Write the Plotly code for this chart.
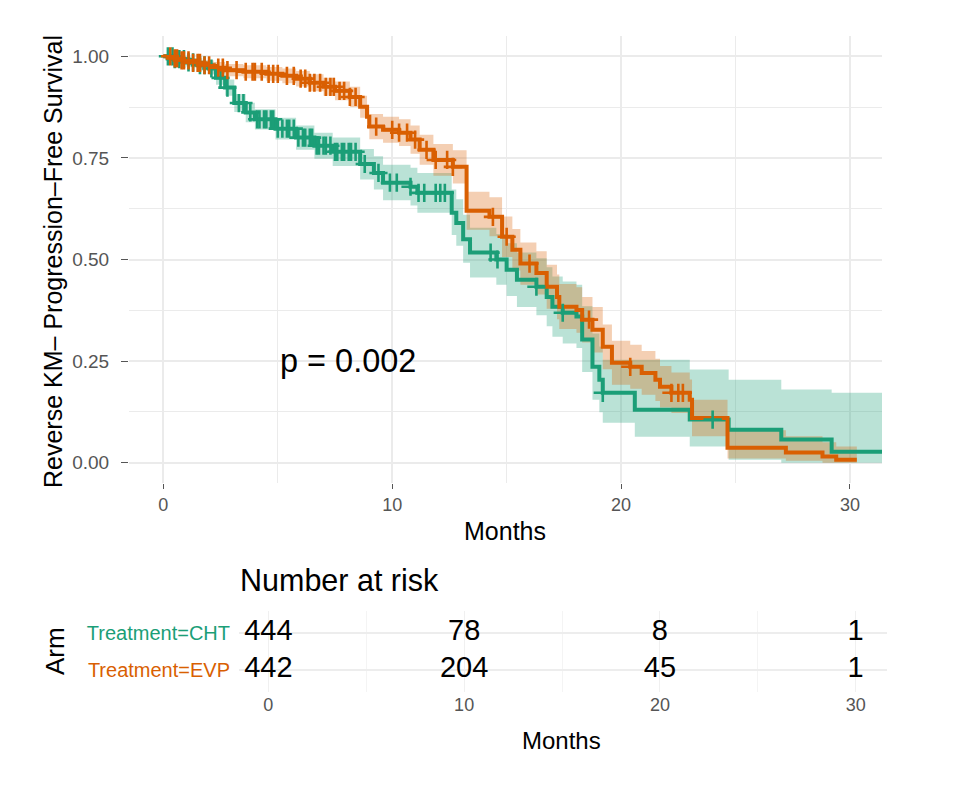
import numpy as np
import plotly.graph_objects as go

# ---------------- data ----------------
# CHT arm (Kaplan-Meier steps)
cht_t = [0, 0.5, 1.0, 1.5, 2.0, 2.3, 2.7, 3.1, 3.6, 4.0, 4.9, 5.8, 6.6, 7.4, 8.6, 9.2, 9.6,
         10.8, 11.1, 12.6, 12.8, 13.1, 13.4, 14.55, 15.0, 15.45, 16.3, 16.75, 17.0, 17.45,
         18.05, 18.3, 18.75, 19.05, 19.2, 20.6, 23.0, 24.7, 27.0, 29.2, 31.4]
cht_s = [1.0, 0.993, 0.985, 0.978, 0.97, 0.947, 0.923, 0.885, 0.862, 0.845, 0.822, 0.8, 0.78,
         0.765, 0.735, 0.713, 0.689, 0.679, 0.664, 0.615, 0.59, 0.55, 0.517, 0.5, 0.475, 0.45,
         0.433, 0.408, 0.384, 0.369, 0.36, 0.303, 0.236, 0.204, 0.172, 0.13, 0.106, 0.081,
         0.057, 0.027, 0.027]
cht_lo = [1.0, 0.985, 0.975, 0.965, 0.955, 0.93, 0.903, 0.863, 0.838, 0.82, 0.795, 0.77, 0.748,
          0.73, 0.697, 0.672, 0.646, 0.633, 0.615, 0.56, 0.534, 0.492, 0.456, 0.438, 0.41, 0.383,
          0.363, 0.336, 0.31, 0.293, 0.282, 0.223, 0.155, 0.124, 0.098, 0.064, 0.04, 0.007,
          0.0, 0.0, 0.0]
cht_hi = [1.0, 1.0, 0.996, 0.99, 0.985, 0.965, 0.943, 0.907, 0.886, 0.87, 0.849, 0.83, 0.812,
          0.8, 0.772, 0.754, 0.733, 0.726, 0.713, 0.672, 0.648, 0.61, 0.578, 0.563, 0.54,
          0.517, 0.503, 0.481, 0.458, 0.446, 0.438, 0.385, 0.318, 0.286, 0.253, 0.253, 0.229,
          0.204, 0.18, 0.172, 0.172]
cht_cens = [0.2, 0.4, 0.5, 0.7, 0.9, 1.1, 1.3, 1.6, 1.8, 2.1, 2.5, 2.8, 3.3, 3.5, 3.8, 4.1, 4.2,
            4.4, 4.5, 4.7, 4.8, 5.0, 5.2, 5.4, 5.5, 5.7, 5.9, 6.1, 6.2, 6.4, 6.5, 6.7, 6.8, 7.0,
            7.1, 7.3, 7.5, 7.6, 7.8, 7.9, 8.1, 8.2, 8.4, 8.8, 9.4, 9.9, 10.2, 10.8, 11.15, 11.4,
            11.9, 12.1, 12.3, 14.3, 14.6, 16.3, 17.45, 19.2, 24.0]

# EVP arm
evp_t = [0, 0.4, 0.8, 1.2, 1.7, 2.2, 2.7, 3.5, 4.5, 5.2, 5.8, 6.4, 7.0, 7.5, 8.15, 8.6, 8.9,
         9.0, 9.6, 10.3, 10.8, 11.2, 11.8, 12.65, 13.25, 14.25, 14.8, 15.25, 15.6, 16.3, 16.75,
         17.2, 17.3, 18.05, 18.3, 18.75, 19.2, 19.6, 20.4, 20.9, 21.5, 21.7, 22.2, 23.0, 23.1,
         24.65, 27.2, 28.8, 29.4, 30.3]
evp_s = [1.0, 0.995, 0.99, 0.984, 0.978, 0.972, 0.966, 0.962, 0.957, 0.952, 0.945, 0.935, 0.925,
         0.915, 0.9, 0.876, 0.851, 0.827, 0.819, 0.812, 0.795, 0.77, 0.745, 0.728, 0.62, 0.605,
         0.556, 0.524, 0.49, 0.467, 0.433, 0.408, 0.384, 0.376, 0.352, 0.327, 0.285, 0.246,
         0.236, 0.221, 0.204, 0.187, 0.172, 0.155, 0.11, 0.037, 0.025, 0.015, 0.007, 0.007]
evp_lo = [1.0, 0.988, 0.981, 0.973, 0.966, 0.958, 0.951, 0.946, 0.94, 0.934, 0.926, 0.914, 0.903,
          0.892, 0.875, 0.849, 0.822, 0.796, 0.787, 0.779, 0.76, 0.733, 0.706, 0.687, 0.573,
          0.557, 0.506, 0.473, 0.438, 0.414, 0.379, 0.353, 0.329, 0.32, 0.296, 0.271, 0.23,
          0.192, 0.182, 0.167, 0.152, 0.136, 0.122, 0.105, 0.065, 0.01, 0.005, 0.0, 0.0, 0.0]
evp_hi = [1.0, 1.0, 0.999, 0.995, 0.99, 0.986, 0.981, 0.978, 0.974, 0.97, 0.964, 0.956, 0.947,
          0.938, 0.925, 0.903, 0.88, 0.858, 0.851, 0.845, 0.83, 0.807, 0.784, 0.769, 0.667,
          0.653, 0.606, 0.575, 0.542, 0.52, 0.487, 0.463, 0.44, 0.432, 0.408, 0.383, 0.34, 0.3,
          0.29, 0.275, 0.256, 0.238, 0.222, 0.205, 0.155, 0.08, 0.065, 0.05, 0.04, 0.04]
evp_cens = [0.3, 0.5, 0.6, 0.8, 0.9, 1.1, 1.3, 1.5, 1.6, 1.8, 2.0, 2.4, 2.6, 2.8, 3.2, 3.6, 3.9,
            4.0, 4.3, 4.6, 4.8, 5.0, 5.4, 5.7, 6.0, 6.2, 6.4, 6.6, 6.85, 7.1, 7.3, 7.45, 7.7,
            7.9, 8.15, 8.4, 9.3, 10.0, 10.3, 10.65, 11.0, 11.5, 11.9, 12.4, 12.65, 14.4, 15.0,
            16.0, 18.6, 20.4, 22.2, 22.5, 22.7]

risk_times = [0, 10, 20, 30]
risk_cht = [444, 78, 8, 1]
risk_evp = [442, 204, 45, 1]

arm_labels = ["Treatment=CHT", "Treatment=EVP"]
p_text = "p = 0.002"

GREEN = "#1B9E77"
ORANGE = "#D95F02"
FONT = "Liberation Sans, Arial, Helvetica, sans-serif"


def step_at(times, surv, t):
    idx = np.searchsorted(np.asarray(times), np.asarray(t), side="right") - 1
    return np.asarray(surv)[idx]


fig = go.Figure()

# confidence bands
for t, lo, hi, col in [(cht_t, cht_lo, cht_hi, "rgba(27,158,119,0.30)"),
                       (evp_t, evp_lo, evp_hi, "rgba(217,95,2,0.30)")]:
    fig.add_trace(go.Scatter(x=t, y=lo, mode="lines", line=dict(width=0, shape="hv"),
                             hoverinfo="skip", showlegend=False, xaxis="x", yaxis="y"))
    fig.add_trace(go.Scatter(x=t, y=hi, mode="lines", line=dict(width=0, shape="hv"),
                             fill="tonexty", fillcolor=col, hoverinfo="skip",
                             showlegend=False, xaxis="x", yaxis="y"))

# survival curves
for t, s, col in [(cht_t, cht_s, GREEN), (evp_t, evp_s, ORANGE)]:
    fig.add_trace(go.Scatter(x=t, y=s, mode="lines", line=dict(color=col, width=4, shape="hv"),
                             showlegend=False, xaxis="x", yaxis="y"))

# censor marks
for t, s, c, col in [(cht_t, cht_s, cht_cens, GREEN), (evp_t, evp_s, evp_cens, ORANGE)]:
    fig.add_trace(go.Scatter(x=c, y=step_at(t, s, c), mode="markers",
                             marker=dict(symbol="cross-thin", size=13, color=col,
                                         line=dict(color=col, width=2.6)),
                             showlegend=False, xaxis="x", yaxis="y"))

# risk table numbers
fig.add_trace(go.Scatter(x=risk_times, y=[2] * len(risk_times), mode="text",
                         text=[str(v) for v in risk_cht],
                         textfont=dict(size=29, color="black", family=FONT),
                         showlegend=False, xaxis="x2", yaxis="y2"))
fig.add_trace(go.Scatter(x=risk_times, y=[1] * len(risk_times), mode="text",
                         text=[str(v) for v in risk_evp],
                         textfont=dict(size=29, color="black", family=FONT),
                         showlegend=False, xaxis="x2", yaxis="y2"))

GRID = "#ebebeb"
TICKC = "#555555"

fig.update_layout(
    width=972, height=788,
    margin=dict(l=0, r=0, t=0, b=0),
    paper_bgcolor="white", plot_bgcolor="white",
    font=dict(family=FONT, color="black"),
    xaxis=dict(domain=[129 / 972, 882 / 972], range=[-1.5, 31.4], anchor="y",
               tickvals=[0, 10, 20, 30], showgrid=True, gridcolor=GRID, gridwidth=1.6,
               minor=dict(tickvals=[5, 15, 25], showgrid=True, gridcolor=GRID, gridwidth=0.8),
               zeroline=False, showline=False, ticks="outside", ticklen=5, tickcolor=TICKC,
               tickwidth=1.2, tickfont=dict(size=18, color=TICKC, family=FONT)),
    yaxis=dict(domain=[1 - 483 / 788, 1 - 36 / 788], range=[-0.05, 1.05], anchor="x",
               tickvals=[0, 0.25, 0.5, 0.75, 1.0], ticktext=["0.00", "0.25", "0.50", "0.75", "1.00"],
               showgrid=True, gridcolor=GRID, gridwidth=1.6,
               minor=dict(tickvals=[0.125, 0.375, 0.625, 0.875], showgrid=True, gridcolor=GRID,
                          gridwidth=0.8),
               zeroline=False, showline=False, ticks="outside", ticklen=7, tickcolor=TICKC,
               tickwidth=1.4, ticklabelstandoff=8,
               tickfont=dict(size=19, color=TICKC, family=FONT)),
    xaxis2=dict(domain=[239 / 972, 887 / 972], range=[-1.5, 31.6], anchor="y2",
                tickvals=[0, 10, 20, 30], showgrid=True, gridcolor="#f0f0f0", gridwidth=1.2,
                minor=dict(tickvals=[5, 15, 25], showgrid=True, gridcolor="#f4f4f4", gridwidth=0.8),
                zeroline=False, showline=False, ticks="",
                tickfont=dict(size=18, color=TICKC, family=FONT)),
    yaxis2=dict(domain=[1 - 692 / 788, 1 - 611 / 788], range=[0.4, 2.6], anchor="x2",
                tickvals=[2, 1],
                ticktext=["<span style='color:%s'>%s</span>" % (GREEN, arm_labels[0]),
                          "<span style='color:%s'>%s</span>" % (ORANGE, arm_labels[1])],
                showgrid=True, gridcolor="#ededed", gridwidth=1.6, zeroline=False,
                showline=False, ticks="outside", ticklen=4, tickcolor="rgba(0,0,0,0)",
                tickfont=dict(size=20, family=FONT)),
    annotations=[
        dict(text="Reverse KM\u2013 Progression\u2013Free Survival", xref="paper", yref="paper",
             x=53 / 972, y=1 - 262 / 788, textangle=-90, showarrow=False,
             font=dict(size=25, color="black", family=FONT), xanchor="center", yanchor="middle"),
        dict(text="Months", xref="paper", yref="paper", x=505 / 972, y=1 - 531 / 788,
             showarrow=False, font=dict(size=25, color="black", family=FONT),
             xanchor="center", yanchor="middle"),
        dict(text=p_text, xref="x", yref="y", x=5, y=0.25, xanchor="left", yanchor="middle",
             showarrow=False, font=dict(size=32.5, color="black", family=FONT)),
        dict(text="Number at risk", xref="paper", yref="paper", x=238 / 972, y=1 - 580 / 788,
             xanchor="left", yanchor="middle", showarrow=False,
             font=dict(size=30.5, color="black", family=FONT)),
        dict(text="Arm", xref="paper", yref="paper", x=55 / 972, y=1 - 651 / 788,
             textangle=-90, showarrow=False, font=dict(size=26, color="black", family=FONT),
             xanchor="center", yanchor="middle"),
        dict(text="Months", xref="paper", yref="paper", x=561 / 972, y=1 - 740 / 788,
             showarrow=False, font=dict(size=24, color="black", family=FONT),
             xanchor="center", yanchor="middle"),
    ],
)

fig.write_html("out.html")
